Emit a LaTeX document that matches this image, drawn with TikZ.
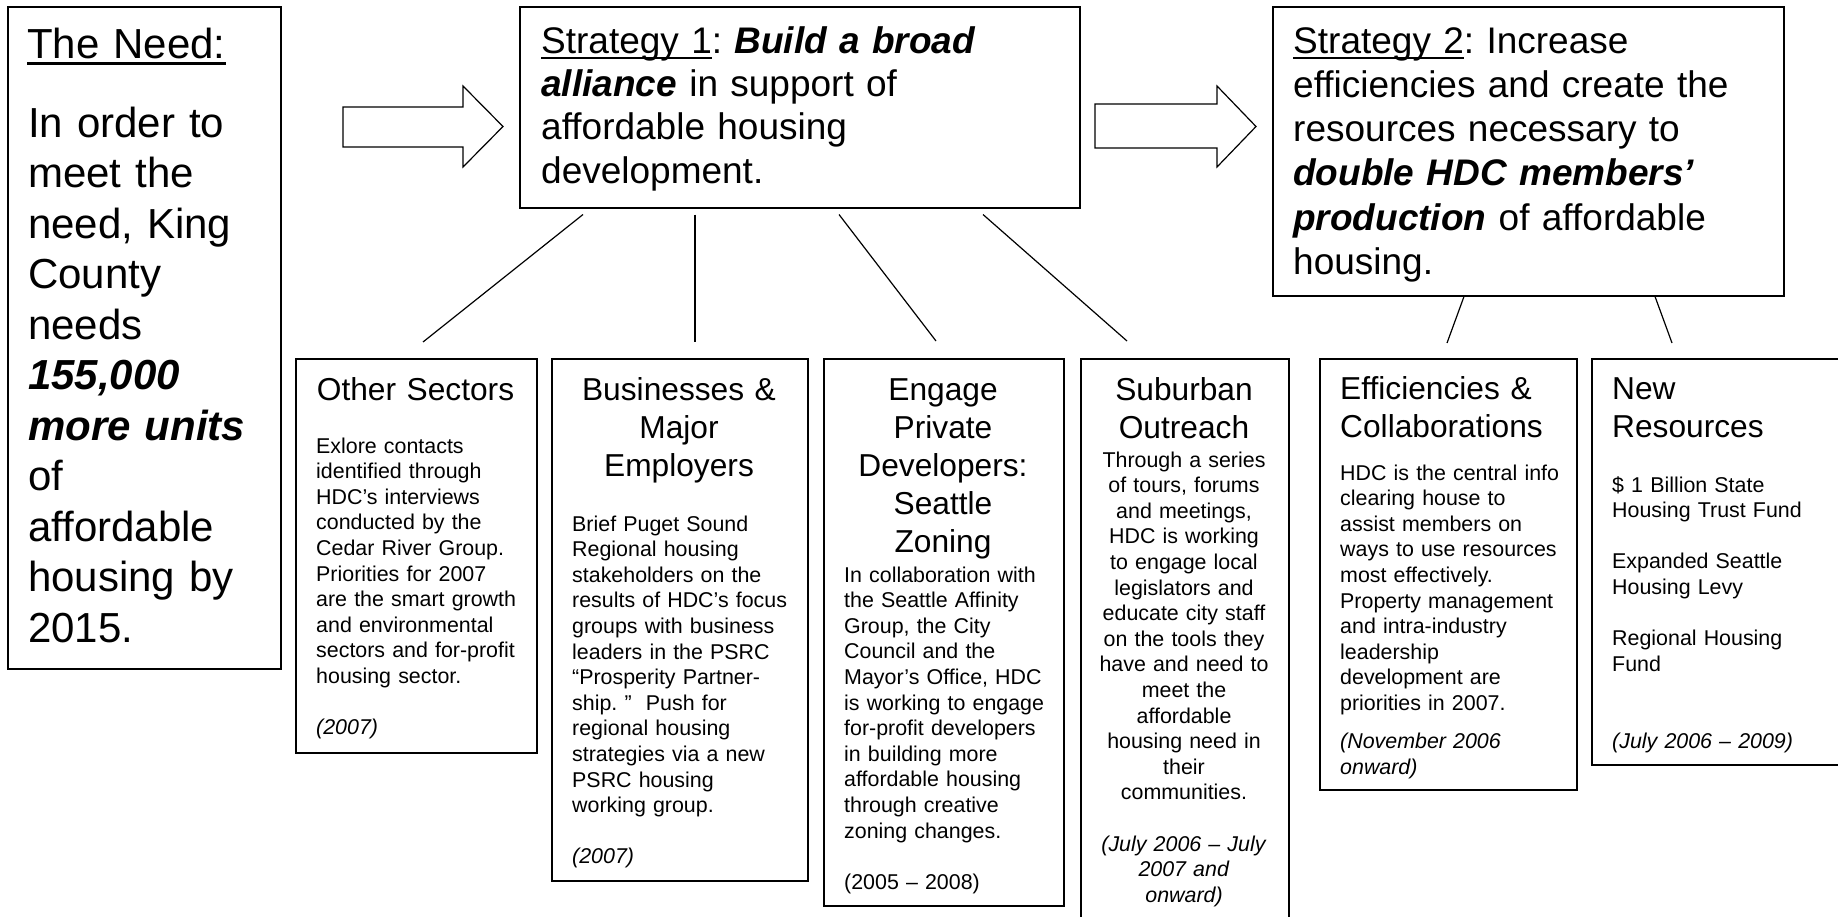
\documentclass[tikz,border=0pt]{standalone}
\usepackage{fontspec}
\setmainfont{Liberation Sans}
\usetikzlibrary{calc}
\frenchspacing
\newlength\myulwd
\newcommand\myul[1]{\settowidth\myulwd{#1}\rlap{\rule[-0.17em]{\myulwd}{0.075em}}#1}
\newcommand\bi[1]{\textbf{\textit{#1}}}
\begin{document}
\begin{tikzpicture}[x=1pt,y=-1pt,
  box/.style={draw=black,line width=1.5pt,rectangle,inner sep=0pt,anchor=north west},
  conn/.style={draw=black,line width=1.2pt},
  barrow/.style={draw=black,line width=1.2pt,fill=white,line join=miter},
  needtxt/.style={inner sep=0pt,anchor=base west,text width=245pt,align=left,font=\fontsize{42}{50.5}\selectfont},
  strtxt/.style={inner sep=0pt,anchor=base west,align=left},
  ttl/.style={inner sep=0pt,font=\fontsize{31.7}{38}\selectfont},
  ttlc/.style={ttl,anchor=base,align=center},
  ttll/.style={ttl,anchor=base west,align=left},
  bod/.style={inner sep=0pt,font=\fontsize{21.4}{25.6}\selectfont},
  bodl/.style={bod,anchor=base west,align=left},
  bodc/.style={bod,anchor=base,align=center},
]
\clip (0,0) rectangle (1838,916);
\fill[white] (0,0) rectangle (1838,916);

% boxes
\node[box,minimum width=273pt,minimum height=662pt] (need) at (7,6) {};
\node[box,minimum width=560pt,minimum height=201pt] (s1) at (519,6) {};
\node[box,minimum width=511pt,minimum height=289pt] (s2) at (1272,6) {};
\node[box,minimum width=241pt,minimum height=394pt] (other) at (295,358) {};
\node[box,minimum width=256pt,minimum height=522pt] (bus) at (551,358) {};
\node[box,minimum width=240pt,minimum height=547pt] (eng) at (823,358) {};
\node[box,minimum width=208pt,minimum height=580pt] (sub) at (1080,358) {};
\node[box,minimum width=257pt,minimum height=431pt] (eff) at (1319,358) {};
\node[box,minimum width=270pt,minimum height=406pt] (newr) at (1591,358) {};

% block arrows
\draw[barrow] (343,107) -- (463,107) -- (463,86) -- (503,126.5) -- (463,167) -- (463,147) -- (343,147) -- cycle;
\draw[barrow] (1095,104) -- (1217,104) -- (1217,86) -- (1256,126.5) -- (1217,167) -- (1217,148) -- (1095,148) -- cycle;

% connector end points
\coordinate (c1a) at ($(s1.south west)+(64,6)$);
\coordinate (c1b) at ($(other.north west)+(128,-16)$);
\coordinate (c2a) at ($(s1.south west)+(176,6)$);
\coordinate (c2b) at ($(bus.north west)+(144,-16)$);
\coordinate (c3a) at ($(s1.south west)+(320,6)$);
\coordinate (c3b) at ($(eng.north west)+(113,-17)$);
\coordinate (c4a) at ($(s1.south west)+(464,6)$);
\coordinate (c4b) at ($(sub.north west)+(47,-17)$);
\coordinate (c5a) at ($(s2.south west)+(192,0)$);
\coordinate (c5b) at ($(eff.north west)+(128,-15)$);
\coordinate (c6a) at ($(s2.south west)+(383,0)$);
\coordinate (c6b) at ($(newr.north west)+(81,-15)$);
\draw[conn] (c1a) -- (c1b);
\draw[conn] (c2a) -- (c2b);
\draw[conn] (c3a) -- (c3b);
\draw[conn] (c4a) -- (c4b);
\draw[conn] (c5a) -- (c5b);
\draw[conn] (c6a) -- (c6b);

% The Need
\node[needtxt] (needh) at (27,58) {\myul{The Need:}};
\node[needtxt] (needb) at (28,137) {In order to\\meet the\\need, King\\County\\needs\\\bi{155,000}\\\bi{more units}\\of\\affordable\\housing by\\2015.};

% Strategies
\node[strtxt,text width=530pt,font=\fontsize{37}{43.4}\selectfont] (s1t) at (541,53)
  {\myul{Strategy 1}: \bi{Build a broad}\\\bi{alliance} in support of\\affordable housing\\development.};
\node[strtxt,text width=480pt,font=\fontsize{37}{44.3}\selectfont] (s2t) at (1293,53)
  {\myul{Strategy 2}: Increase\\efficiencies and create the\\resources necessary to\\\bi{double HDC members’}\\\bi{production} of affordable\\housing.};

% Other Sectors
\node[ttlc,text width=230pt] (othert) at (415.5,400) {Other Sectors};
\node[bodl,text width=215pt] (otherb) at (316,453) {Exlore contacts\\identified through\\HDC’s interviews\\conducted by the\\Cedar River Group.\\Priorities for 2007\\are the smart growth\\and environmental\\sectors and for-profit\\housing sector.\\[25.6pt]\textit{(2007)}};

% Businesses
\node[ttlc,text width=240pt] (bust) at (679,400) {Businesses \&\\Major\\Employers};
\node[bodl,text width=230pt] (busb) at (572,531) {Brief Puget Sound\\Regional housing\\stakeholders on the\\results of HDC’s focus\\groups with business\\leaders in the PSRC\\“Prosperity Partner-\\ship. ”\ \ Push for\\regional housing\\strategies via a new\\PSRC housing\\working group.\\[25.6pt]\textit{(2007)}};

% Engage
\node[ttlc,text width=230pt] (engt) at (943,400) {Engage\\Private\\Developers:\\Seattle\\Zoning};
\node[bodl,text width=215pt] (engb) at (844,582) {In collaboration with\\the Seattle Affinity\\Group, the City\\Council and the\\Mayor’s Office, HDC\\is working to engage\\for-profit developers\\in building more\\affordable housing\\through creative\\zoning changes.\\[25.6pt](2005 – 2008)};

% Suburban
\node[ttlc,text width=200pt] (subt) at (1184,400) {Suburban\\Outreach};
\node[bodc,text width=200pt] (subb) at (1184,467) {Through a series\\of tours, forums\\and meetings,\\HDC is working\\to engage local\\legislators and\\educate city staff\\on the tools they\\have and need to\\meet the\\affordable\\housing need in\\their\\communities.\\[25.6pt]\textit{(July 2006 – July}\\\textit{2007 and}\\\textit{onward)}};

% Efficiencies
\node[ttll,text width=232pt] (efft) at (1340,399) {Efficiencies \&\\Collaborations};
\node[bodl,text width=232pt] (effb) at (1340,480) {HDC is the central info\\clearing house to\\assist members on\\ways to use resources\\most effectively.\\Property management\\and intra-industry\\leadership\\development are\\priorities in 2007.\\[12.4pt]\textit{(November 2006}\\\textit{onward)}};

% New Resources
\node[ttll,text width=220pt] (newrt) at (1612,399) {New\\Resources};
\node[bodl,text width=220pt] (newrb) at (1612,492) {\$ 1 Billion State\\Housing Trust Fund\\[25.6pt]Expanded Seattle\\Housing Levy\\[25.6pt]Regional Housing\\Fund\\[51.2pt]\textit{(July 2006 – 2009)}};
\end{tikzpicture}
\end{document}
